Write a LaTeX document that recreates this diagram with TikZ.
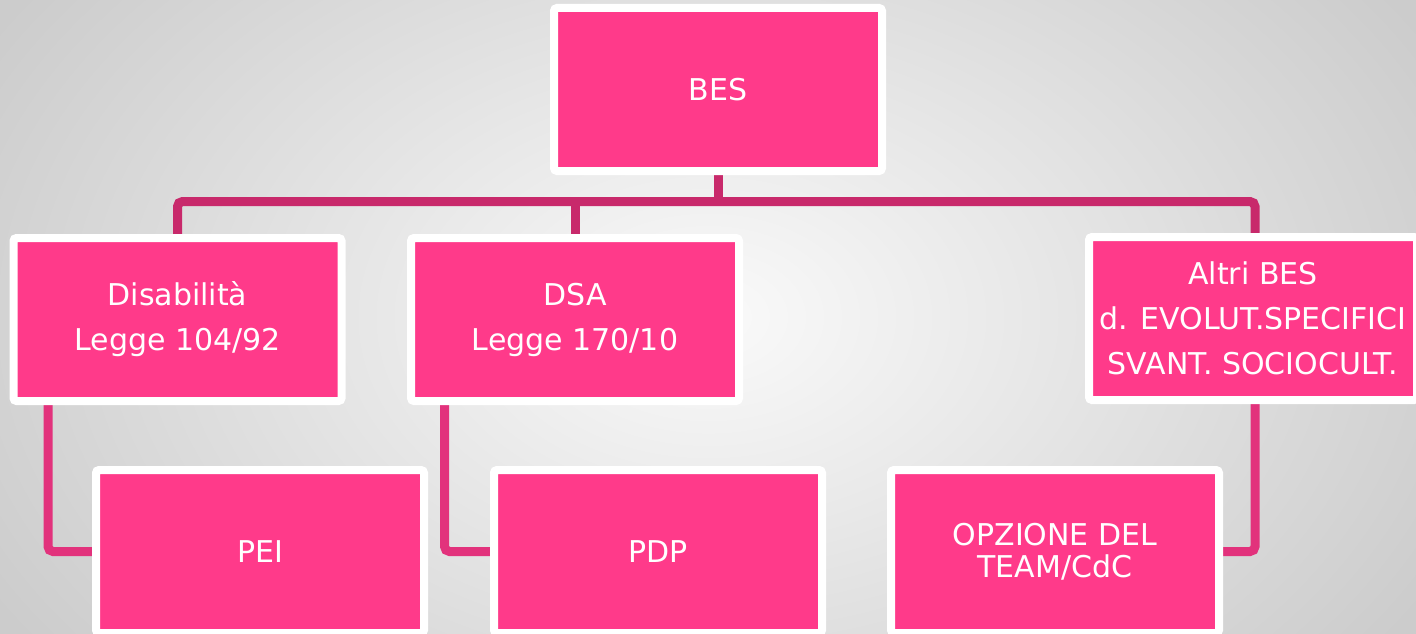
\documentclass[tikz,border=0pt]{standalone}
\usepackage{fontspec}
\setmainfont{DejaVu Sans}
\definecolor{boxpink}{HTML}{FF3A8A}
\definecolor{conntop}{HTML}{C8296B}
\definecolor{connlow}{HTML}{E2327C}
\pgfdeclarelayer{bg}
\pgfdeclarelayer{lines}
\pgfsetlayers{bg,lines,main}
\tikzset{
  pinkbox/.style={draw=white, line width=8pt, fill=boxpink, rounded corners=3pt,
    minimum width=328pt, minimum height=163pt, inner sep=0pt, text=white,
    align=center, font=\fontsize{30}{45}\selectfont},
  conn/.style={draw=conntop, line width=9pt, rounded corners=5pt},
  connb/.style={draw=connlow, line width=9pt, rounded corners=5pt},
}
\begin{document}
\begin{tikzpicture}[x=1pt,y=-1pt]
\useasboundingbox (0,0) rectangle (1416,634);
\begin{pgfonlayer}{bg}
\shade[inner color=gray!4, outer color=gray!40] (-120,-250) rectangle (1536,884);
\end{pgfonlayer}
\node[pinkbox] (bes) at (718,89.5) {BES};
\node[pinkbox] (dis) at (177.5,319.5) {Disabilità\\Legge 104/92};
\node[pinkbox] (dsa) at (575,319.5) {DSA\\Legge 170/10};
\node[pinkbox] (alt) at (1253,318.5) {Altri BES\\d. EVOLUT.SPECIFICI\\SVANT. SOCIOCULT.};
\node[pinkbox] (pei) at (260,551.5) {PEI};
\node[pinkbox] (pdp) at (658,551.5) {PDP};
\node[pinkbox, font=\fontsize{30}{32}\selectfont] (opz) at (1055,551.5) {OPZIONE DEL\\TEAM/CdC};
\coordinate (bus) at (718,201.5);
\begin{pgfonlayer}{lines}
\draw[conn, rounded corners=0pt] (bes.south) -- (bus);
\draw[conn] (dis.north) |- (bus) -| ([xshift=2pt]alt.north);
\draw[conn, rounded corners=0pt] (dsa.north) -- (dsa.north |- bus);
\draw[connb] ([xshift=38.5pt]dis.south west) |- (pei.west);
\draw[connb] ([xshift=37.5pt]dsa.south west) |- (pdp.west);
\draw[connb] ([xshift=2pt]alt.south) |- (opz.east);
\end{pgfonlayer}
\end{tikzpicture}
\end{document}
